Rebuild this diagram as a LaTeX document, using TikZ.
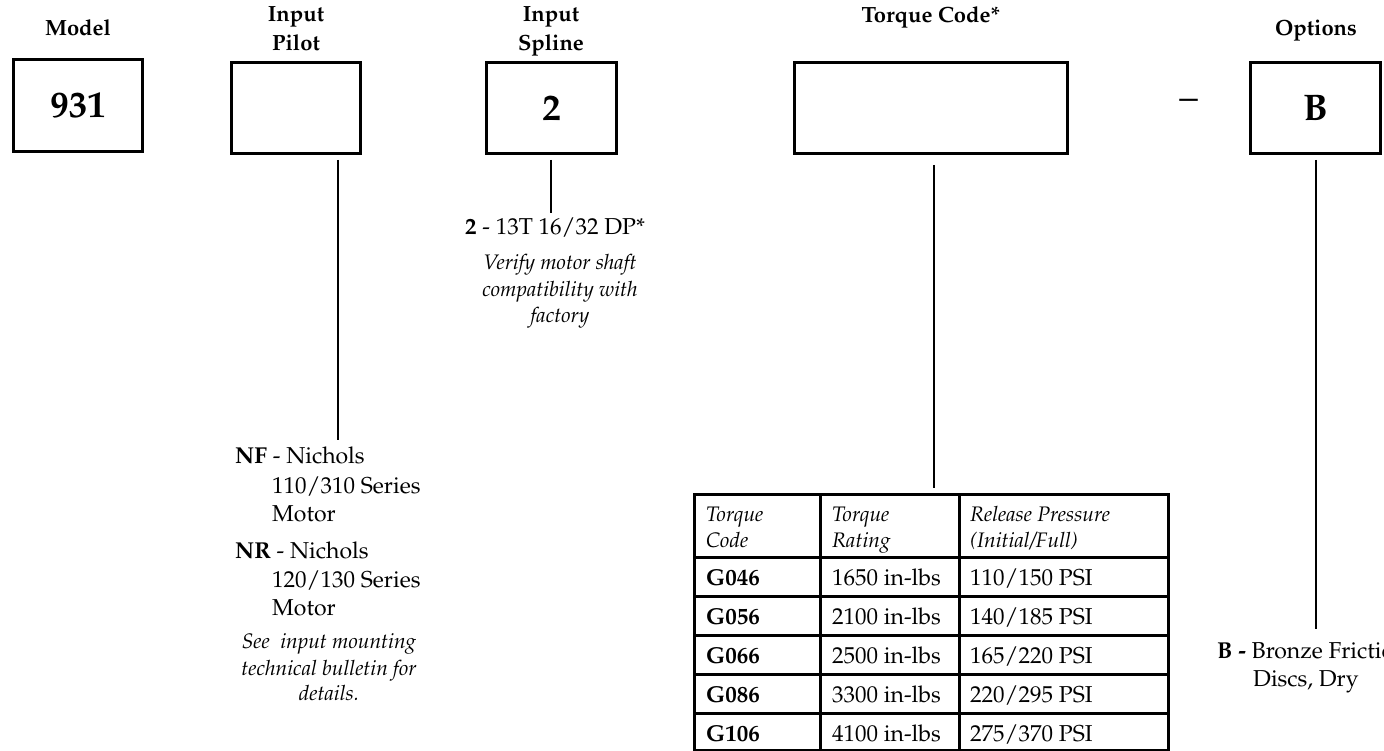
\documentclass[tikz,border=0pt]{standalone}
\usepackage[T1]{fontenc}
\usepackage{mathpazo}
\begin{document}
\begin{tikzpicture}[x=1pt,y=-1pt,
  codebox/.style={draw, line width=3pt, inner sep=0pt, font=\fontsize{37}{40}\selectfont\bfseries},
  hdr/.style={font=\fontsize{22}{26}\selectfont\bfseries, inner sep=0pt, anchor=base},
  txt/.style={font=\fontsize{23}{28}\selectfont, inner sep=0pt, anchor=base west},
  note/.style={font=\fontsize{21}{26}\selectfont\itshape, inner sep=0pt, anchor=base},
  thdr/.style={font=\fontsize{21}{24}\selectfont\itshape, inner sep=0pt, anchor=base west},
  lead/.style={line width=2.5pt},
  grid/.style={line width=3pt}]
\useasboundingbox (0,0) rectangle (1384,751);
\clip (0,0) rectangle (1384,751);
% header labels
\node[hdr] (hmodel) at (78,36) {Model};
\node[hdr] (hpilot1) at (296,22) {Input};
\node[hdr] (hpilot2) at (296,51) {Pilot};
\node[hdr] (hspl1) at (551,22) {Input};
\node[hdr] (hspl2) at (551,51) {Spline};
\node[hdr] (htorque) at (931,23) {Torque Code*};
\node[hdr] (hopt) at (1316,36) {Options};
% code boxes
\node[codebox, minimum width=129pt, minimum height=92pt] (model) at (78,105.5) {931};
\node[codebox, minimum width=129pt, minimum height=91pt] (pilot) at (296,108) {};
\node[codebox, minimum width=130pt, minimum height=91pt] (spline) at (551.5,108) {2};
\node[codebox, minimum width=273pt, minimum height=91pt] (torque) at (931,108) {};
\node[codebox, minimum width=130pt, minimum height=91pt] (opt) at (1315.5,108) {B};
\node[font=\fontsize{37}{40}\selectfont, inner sep=0pt] (dash) at (1188.5,104) {--};
% leader lines
\coordinate (pilotA) at (338,160);
\coordinate (pilotB) at (338,440);
\coordinate (splA) at (551,160);
\coordinate (splB) at (551,213);
\coordinate (torA) at (934,165);
\coordinate (torB) at (934,488);
\coordinate (optA) at (1316,160);
\coordinate (optB) at (1316,629);
\draw[lead] (pilotA) -- (pilotB);
\draw[lead] (splA) -- (splB);
\draw[lead] (torA) -- (torB);
\draw[lead] (optA) -- (optB);
% input spline text
\node[txt] (s1) at (465,235) {\textbf{2} - 13T 16/32 DP*};
\node[note] (s2) at (560,270) {Verify motor shaft};
\node[note] (s3) at (560,297) {compatibility with};
\node[note] (s4) at (560,323) {factory};
% input pilot text
\node[txt] (p1) at (235,463) {\textbf{NF} - Nichols};
\node[txt] (p2) at (272,493) {110/310 Series};
\node[txt] (p3) at (272,521) {Motor};
\node[txt] (p4) at (235,558) {\textbf{NR} - Nichols};
\node[txt] (p5) at (272,587) {120/130 Series};
\node[txt] (p6) at (272,615) {Motor};
\node[note] (p7) at (329,648) {See\ \ input mounting};
\node[note] (p8) at (329,675) {technical bulletin for};
\node[note] (p9) at (329,700) {details.};
% options text
\node[txt] (o1) at (1217,658) {\textbf{B -} Bronze Friction};
\node[txt] (o2) at (1253,686) {Discs, Dry};
% table
\coordinate (tNW) at (694,494);
\coordinate (tSE) at (1168,750);
\draw[grid] (tNW) rectangle (tSE);
\foreach \yy in {557,596,635,674,713} \draw[grid] (694,\yy) -- (1168,\yy);
\foreach \xx in {820,959} \draw[grid] (\xx,494) -- (\xx,750);
\node[thdr] (th1a) at (706,521) {Torque};
\node[thdr] (th1b) at (706,547) {Code};
\node[thdr] (th2a) at (832,521) {Torque};
\node[thdr] (th2b) at (832,547) {Rating};
\node[thdr] (th3a) at (970,521) {Release Pressure};
\node[thdr] (th3b) at (970,547) {(Initial/Full)};
\foreach \c/\r/\p [count=\i] in {G046/1650/110\slash150, G056/2100/140\slash185, G066/2500/165\slash220, G086/3300/220\slash295, G106/4100/275\slash370}{
  \node[txt] (tc\i) at (706,546+39*\i) {\textbf{\c}};
  \node[txt] (tr\i) at (832,546+39*\i) {\r\ in-lbs};
  \node[txt] (tp\i) at (970,546+39*\i) {\p\ PSI};
}
\end{tikzpicture}
\end{document}
